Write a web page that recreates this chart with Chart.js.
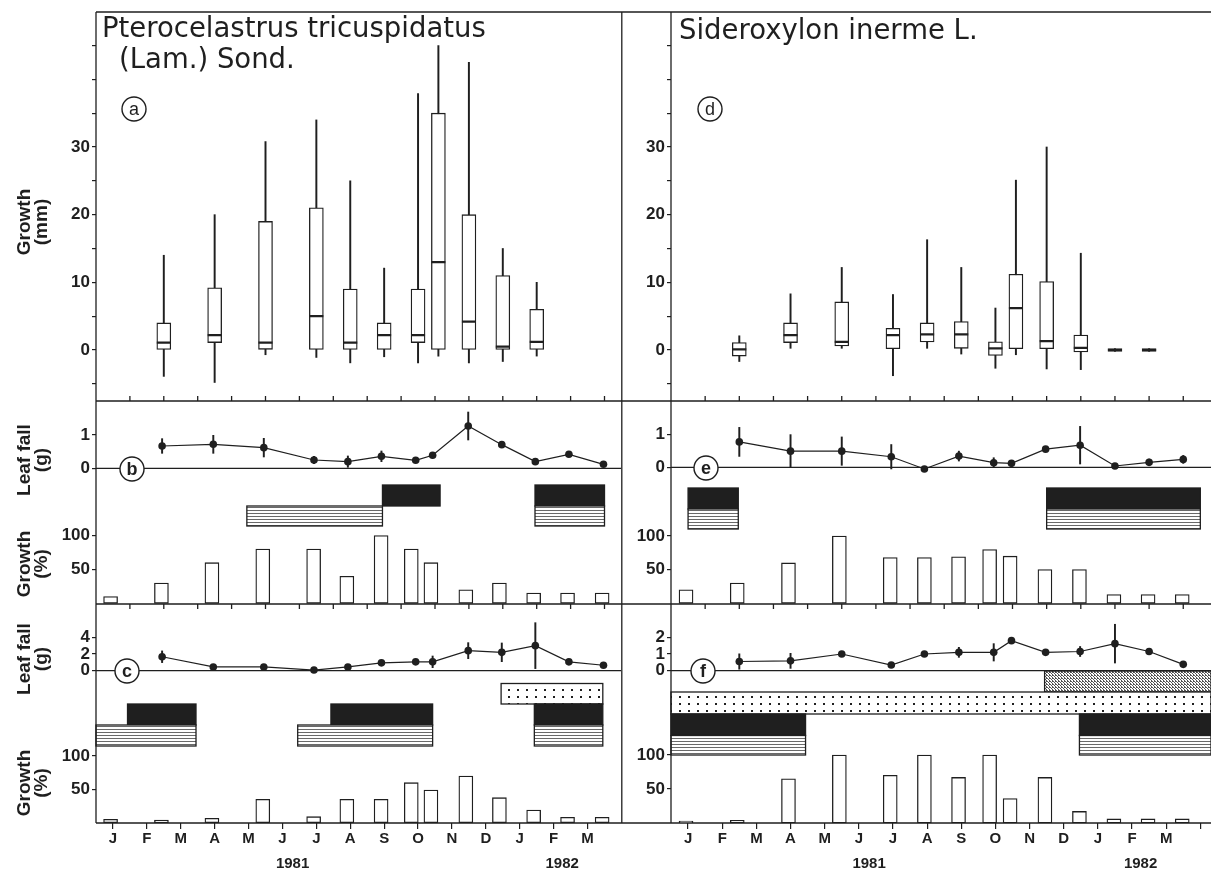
<!DOCTYPE html>
<html lang="en">
<head>
<meta charset="UTF-8">
<title>Growth and leaf fall, 1981-1982</title>
<script src="https://cdn.jsdelivr.net/npm/chart.js@4.4.0/dist/chart.umd.min.js"></script>
<style>
  body { margin: 0; background: #fff; }
  .page { position: relative; width: 1211px; height: 870px; overflow: hidden; }
  canvas { position: absolute; top: 0; }
  #left { left: 0; }
  #right { left: 621px; }
</style>
</head>
<body>
<div class="page">
  <canvas id="left" width="621" height="870"></canvas>
  <canvas id="right" width="590" height="870"></canvas>
</div>
<script>
// ---- axis labels (x in months from 1 Jan 1981) ----
const monthLabels = ["J", "F", "M", "A", "M", "J", "J", "A", "S", "O", "N", "D", "J", "F", "M"];
const monthTicks = [0.5, 1.5, 2.5, 3.5, 4.5, 5.5, 6.5, 7.5, 8.5, 9.5, 10.5, 11.5, 12.5, 13.5, 14.5];
const boundaryTicks = [1, 2, 3, 4, 5, 6, 7, 8, 9, 10, 11, 12, 13, 14, 15];
const yearLabels = ["1981", "1982"];
const yearTicks = [5.8, 13.75];

// ---- Pterocelastrus tricuspidatus ----
// (a) growth, mm
const boxDatesL = [2.0, 3.5, 5.0, 6.5, 7.5, 8.5, 9.5, 10.1, 11.0, 12.0, 13.0];
const boxMinL = [-3.9, -4.8, -0.7, -1.1, -1.9, -1.0, -1.9, -0.9, -1.9, -1.7, -0.9];
const boxQ1L = [0, 1.1, 0.1, 0, 0, 0, 1.1, 0, 0, 0, 0];
const boxMedL = [1.1, 2.2, 1.1, 5.0, 1.1, 2.2, 2.2, 13.0, 4.2, 0.5, 1.2];
const boxQ3L = [4.0, 9.2, 19.0, 21.0, 9.0, 4.0, 9.0, 35.0, 20.0, 11.0, 6.0];
const boxMaxL = [14.0, 20.0, 30.8, 34.0, 25.0, 12.1, 37.9, 45.0, 42.5, 15.0, 10.0];
// (b) and (c) leaf fall, g
const leafDatesL = [1.95, 3.46, 4.95, 6.43, 7.43, 8.42, 9.43, 9.93, 10.98, 11.97, 12.96, 13.95, 14.97];
const leafB = [0.67, 0.72, 0.62, 0.25, 0.2, 0.36, 0.24, 0.39, 1.27, 0.71, 0.2, 0.42, 0.12];
const leafBErr = [0.22, 0.27, 0.28, 0.11, 0.17, 0.16, null, null, 0.42, null, null, null, null];
const leafC = [1.67, 0.45, 0.45, 0.08, 0.45, 0.94, 1.06, 1.06, 2.4, 2.2, 3.0, 1.06, 0.65];
const leafCErr = [0.7, null, null, null, 0.3, null, null, 0.7, 0.96, 1.12, 2.75, null, null];
// (b) and (c) growth, %
const pctDatesL = [0.43, 1.93, 3.42, 4.92, 6.42, 7.4, 8.41, 9.3, 9.88, 10.91, 11.9, 12.91, 13.91, 14.93];
const pctB = [10, 30, 60, 80, 80, 40, 100, 80, 60, 20, 30, 15, 15, 15];
const pctC = [5, 4, 6.5, 35, 9, 35, 35, 60, 49, 70, 37.5, 19, 8, 8];
// phenophase periods [from, to]
const bStriped = [[4.45, 8.45], [12.95, 15.0]];
const bBlack = [[8.45, 10.15], [12.95, 15.0]];
const cDotted = [[11.95, 14.95]];
const cBlack = [[0.93, 2.95], [6.93, 9.93], [12.93, 14.95]];
const cStriped = [[0, 2.95], [5.95, 9.93], [12.93, 14.95]];

// ---- Sideroxylon inerme ----
const boxDatesR = [2.0, 3.5, 5.0, 6.5, 7.5, 8.5, 9.5, 10.1, 11.0, 12.0, 13.0, 14.0];
const boxMinR = [-1.7, 0.25, 0.25, -3.8, 0.25, -0.6, -2.7, -0.7, -2.8, -2.9, -0.2, -0.2];
const boxQ1R = [-0.9, 1.1, 0.6, 0.2, 1.2, 0.25, -0.8, 0.2, 0.2, -0.3, -0.2, -0.2];
const boxMedR = [0.1, 2.2, 1.2, 2.2, 2.3, 2.3, 0.25, 6.2, 1.3, 0.3, 0, 0];
const boxQ3R = [1.1, 4.0, 7.1, 3.2, 4.0, 4.2, 1.2, 11.2, 10.1, 2.2, 0.2, 0.2];
const boxMaxR = [2.1, 8.3, 12.2, 8.2, 16.3, 12.2, 6.2, 25.1, 30.0, 14.3, 0.2, 0.2];
const leafDatesR = [2.0, 3.5, 5.0, 6.45, 7.42, 8.43, 9.45, 9.97, 10.97, 11.98, 13.0, 14.0, 15.0];
const leafE = [0.77, 0.49, 0.49, 0.32, -0.05, 0.34, 0.14, 0.12, 0.55, 0.67, 0.04, 0.15, 0.24];
const leafEErr = [0.44, 0.5, 0.43, 0.37, null, 0.15, 0.15, null, null, 0.57, null, 0.1, 0.12];
const leafF = [0.55, 0.59, 1.0, 0.34, 1.0, 1.1, 1.1, 1.8, 1.1, 1.15, 1.62, 1.15, 0.38];
const leafFErr = [0.46, 0.45, null, null, null, 0.3, 0.52, null, null, 0.3, 1.16, null, null];
const pctDatesR = [0.44, 1.94, 3.44, 4.93, 6.42, 7.42, 8.42, 9.33, 9.93, 10.95, 11.96, 12.97, 13.97, 14.97];
const pctE = [20, 30, 60, 100, 68, 68, 69, 80, 70, 50, 50, 13, 13, 13];
const pctF = [3, 4, 65, 100, 70, 100, 67, 100, 36, 67, 17, 6, 6, 6];
const eBlack = [[0.5, 1.97], [11.0, 15.5]];
const eStriped = [[0.5, 1.97], [11.0, 15.5]];
const fDense = [[10.94, 16]];
const fDotted = [[0, 16]];
const fBlack = [[0, 3.94], [11.96, 16]];
const fStriped = [[0, 3.94], [11.96, 16]];

// ---- layout ----
const INK = "#1f1f1f";
const TOP = 12, BOTTOM = 823, LINE_A = 401, LINE_B = 604;
const TICK_FONT = { family: "Liberation Sans", size: 17, weight: "bold" };

function pattern(w, h, draw) {
  const c = document.createElement("canvas");
  c.width = w; c.height = h;
  const g = c.getContext("2d");
  g.fillStyle = "#fff"; g.fillRect(0, 0, w, h);
  draw(g);
  return c;
}
const stripeTile = pattern(4, 3, g => { g.fillStyle = "#6a6a6a"; g.fillRect(0, 0, 4, 1); });
const dotTile = pattern(9, 7, g => { g.fillStyle = INK; g.fillRect(4, 3, 2, 2); });
const denseTile = pattern(3, 3, g => { g.fillStyle = "#555"; g.fillRect(0, 0, 1, 1); g.fillRect(1, 1, 1, 1); g.fillRect(2, 2, 1, 1); g.fillRect(2, 0, 1, 1); });

// the axis boxes are squeezed to zero size; keep their labels from being clipped away
function noLabelClip(s) { s._computeLabelArea = () => undefined; }

function yScale(zeroPx, pxPerUnit, tickVals, labelVals) {
  return {
    type: "linear", axis: "y", position: "left",
    min: (zeroPx - BOTTOM) / pxPerUnit,
    max: (zeroPx - TOP) / pxPerUnit,
    afterBuildTicks: s => { s.ticks = tickVals.map(v => ({ value: v })); },
    afterFit: s => { s.width = 0; s.paddingTop = 0; s.paddingBottom = 0; noLabelClip(s); },
    grid: { drawOnChartArea: false, drawTicks: true, tickLength: 4, color: INK, lineWidth: 1.2 },
    border: { display: false },
    ticks: {
      autoSkip: false, padding: 2, color: INK, font: TICK_FONT,
      callback: v => (labelVals.includes(v) ? String(v) : "")
    }
  };
}

function xScales(xMax) {
  const base = { type: "linear", axis: "x", position: "bottom", min: 0, max: xMax, offset: false,
                 border: { display: false } };
  const fit = s => { s.height = 0; s.paddingLeft = 0; s.paddingRight = 0; noLabelClip(s); };
  return {
    x: Object.assign({}, base, {
      afterBuildTicks: s => { s.ticks = boundaryTicks.map(v => ({ value: v })); },
      afterFit: fit,
      grid: { drawOnChartArea: false, drawTicks: true, tickLength: 6, color: INK, lineWidth: 1.2 },
      ticks: { autoSkip: false, callback: () => "" }
    }),
    xm: Object.assign({}, base, {
      afterBuildTicks: s => { s.ticks = monthTicks.map(v => ({ value: v })); },
      afterFit: fit,
      grid: { display: false, drawTicks: false },
      ticks: { autoSkip: false, maxRotation: 0, padding: 7, color: INK,
               font: { family: "Liberation Sans", size: 15, weight: "bold" },
               callback: (v, i) => monthLabels[i] }
    }),
    xy: Object.assign({}, base, {
      afterBuildTicks: s => { s.ticks = yearTicks.map(v => ({ value: v })); },
      afterFit: fit,
      grid: { display: false, drawTicks: false },
      ticks: { autoSkip: false, maxRotation: 0, padding: 32, color: INK,
               font: { family: "Liberation Sans", size: 15, weight: "bold" },
               callback: (v, i) => yearLabels[i] }
    })
  };
}

function boxSets(dates, lo, q1, q3, hi, yID) {
  return [
    { type: "bar", yAxisID: yID, xAxisID: "x", grouped: false, order: 6, barThickness: 1.3,
      backgroundColor: INK, borderWidth: 0,
      data: dates.map((d, i) => ({ x: d, y: [lo[i], hi[i]] })) },
    { type: "bar", yAxisID: yID, xAxisID: "x", grouped: false, order: 5, barThickness: 14,
      backgroundColor: "#fff", borderColor: INK, borderWidth: 1.3, borderSkipped: false,
      data: dates.map((d, i) => ({ x: d, y: [q1[i], q3[i]] })) }
  ];
}

function leafSets(dates, vals, errs, yID) {
  return [
    { type: "bar", yAxisID: yID, xAxisID: "x", grouped: false, order: 3, barThickness: 1.3,
      backgroundColor: INK, borderWidth: 0,
      data: dates.map((d, i) => (errs[i] == null ? null : { x: d, y: [vals[i] - errs[i], vals[i] + errs[i]] }))
                 .filter(Boolean) },
    { type: "line", yAxisID: yID, xAxisID: "x", order: 2,
      data: dates.map((d, i) => ({ x: d, y: vals[i] })),
      borderColor: INK, borderWidth: 1.2, tension: 0, fill: false,
      pointRadius: 3.8, pointBackgroundColor: INK, pointBorderWidth: 0 }
  ];
}

function pctSet(dates, vals, yID) {
  return { type: "bar", yAxisID: yID, xAxisID: "x", grouped: false, order: 4, barThickness: 14,
           backgroundColor: "#fff", borderColor: INK, borderWidth: 1.3, borderSkipped: false,
           data: dates.map((d, i) => ({ x: d, y: vals[i] })) };
}

function circled(ctx, ch, x, y, bold) {
  ctx.beginPath();
  ctx.arc(x, y, 12, 0, Math.PI * 2);
  ctx.fillStyle = "#fff"; ctx.fill();
  ctx.lineWidth = 1.4; ctx.strokeStyle = INK; ctx.stroke();
  ctx.fillStyle = INK;
  ctx.font = (bold ? "bold " : "") + "18px 'Liberation Sans'";
  ctx.textAlign = "center"; ctx.textBaseline = "middle";
  ctx.fillText(ch, x, y + 1);
}

function rotated(ctx, lines, cx, cy) {
  ctx.save();
  ctx.translate(cx, cy);
  ctx.rotate(-Math.PI / 2);
  ctx.fillStyle = INK;
  ctx.font = "bold 19px 'Liberation Sans'";
  ctx.textAlign = "center"; ctx.textBaseline = "middle";
  ctx.fillText(lines[0], 0, -9);
  ctx.fillText(lines[1], 0, 8);
  ctx.restore();
}

function panelPlugin(cfg) {
  return {
    id: "panel",
    beforeDatasetsDraw(chart) {
      const { ctx, chartArea: ca, scales } = chart;
      const W = chart.width;
      ctx.save();
      // phenophase bands
      cfg.bands.forEach(b => {
        ctx.fillStyle = b.fill === "black" ? INK : ctx.createPattern(b.fill, "repeat");
        b.ranges.forEach(r => {
          const x0 = Math.max(ca.left, scales.x.getPixelForValue(r[0]));
          const x1 = Math.min(W, scales.x.getPixelForValue(r[1]));
          ctx.fillRect(x0, b.top, x1 - x0, b.bottom - b.top);
          ctx.lineWidth = 1.3; ctx.strokeStyle = INK;
          ctx.strokeRect(x0, b.top, x1 - x0, b.bottom - b.top);
        });
      });
      // frame, zero lines and month ticks
      ctx.strokeStyle = INK; ctx.lineWidth = 1.3;
      ctx.beginPath();
      const ln = (x0, y0, x1, y1) => { ctx.moveTo(x0, y0); ctx.lineTo(x1, y1); };
      ln(ca.left, TOP, ca.left, BOTTOM);
      if (cfg.divider) ln(0.8, TOP, 0.8, BOTTOM);
      [TOP, LINE_A, LINE_B, BOTTOM].forEach(y => ln(cfg.hStart, y, W, y));
      cfg.zeros.forEach(id => {
        const y = scales[id].getPixelForValue(0);
        ln(ca.left, y, W, y);
      });
      boundaryTicks.forEach(v => {
        const x = scales.x.getPixelForValue(v);
        ln(x, LINE_A, x, LINE_A - 5);
        ln(x, LINE_B, x, LINE_B + 5);
      });
      ctx.stroke();
      ctx.restore();
    },
    afterDatasetsDraw(chart) {
      const { ctx, scales } = chart;
      ctx.save();
      // box medians
      ctx.strokeStyle = INK; ctx.lineWidth = 2.2;
      ctx.beginPath();
      cfg.medDates.forEach((d, i) => {
        const x = scales.x.getPixelForValue(d);
        const y = scales[cfg.medAxis].getPixelForValue(cfg.medians[i]);
        ctx.moveTo(x - 7, y); ctx.lineTo(x + 7, y);
      });
      ctx.stroke();
      cfg.letters.forEach(l => circled(ctx, l.ch, l.x, l.y, l.bold));
      ctx.fillStyle = INK;
      ctx.font = "27.5px 'DejaVu Sans'";
      ctx.textAlign = "left"; ctx.textBaseline = "alphabetic";
      cfg.titles.forEach(t => ctx.fillText(t.text, t.x, t.y));
      (cfg.yTitles || []).forEach(t => rotated(ctx, t.lines, t.x, t.y));
      ctx.restore();
    }
  };
}

function makeChart(id, padLeft, xMax, yScales, datasets, plugin) {
  return new Chart(document.getElementById(id), {
    type: "bar",
    data: { datasets },
    options: {
      responsive: false, animation: false, events: [], devicePixelRatio: 1,
      layout: { autoPadding: false, padding: { left: padLeft, right: 0, top: TOP, bottom: 870 - BOTTOM } },
      plugins: { legend: { display: false }, tooltip: { enabled: false } },
      scales: Object.assign(xScales(xMax), yScales)
    },
    plugins: [plugin]
  });
}

const fiveStep = [-5, 0, 5, 10, 15, 20, 25, 30, 35, 40, 45];
const mmLabels = [0, 10, 20, 30];

makeChart("left", 96, (621 - 96) / 33.9, {
    yA: yScale(350, 6.767, fiveStep, mmLabels),
    yB: yScale(468.3, 33.3, [0, 1], [0, 1]),
    yBg: yScale(603.3, 0.677, [50, 100], [50, 100]),
    yC: yScale(670.7, 8.35, [0, 2, 4], [0, 2, 4]),
    yCg: yScale(822.7, 0.667, [50, 100], [50, 100])
  },
  [].concat(
    boxSets(boxDatesL, boxMinL, boxQ1L, boxQ3L, boxMaxL, "yA"),
    leafSets(leafDatesL, leafB, leafBErr, "yB"),
    pctSet(pctDatesL, pctB, "yBg"),
    leafSets(leafDatesL, leafC, leafCErr, "yC"),
    pctSet(pctDatesL, pctC, "yCg")
  ),
  panelPlugin({
    hStart: 96, divider: false, zeros: ["yB", "yC"],
    medDates: boxDatesL, medians: boxMedL, medAxis: "yA",
    bands: [
      { ranges: bBlack, top: 485, bottom: 506, fill: "black" },
      { ranges: bStriped, top: 506, bottom: 526, fill: stripeTile },
      { ranges: cDotted, top: 683.5, bottom: 704, fill: dotTile },
      { ranges: cBlack, top: 704, bottom: 725, fill: "black" },
      { ranges: cStriped, top: 725, bottom: 746, fill: stripeTile }
    ],
    letters: [
      { ch: "a", x: 134, y: 109, bold: false },
      { ch: "b", x: 132, y: 469, bold: true },
      { ch: "c", x: 127, y: 671, bold: true }
    ],
    titles: [
      { text: "Pterocelastrus tricuspidatus", x: 102, y: 37 },
      { text: "(Lam.) Sond.", x: 119, y: 68 }
    ],
    yTitles: [
      { lines: ["Growth", "(mm)"], x: 34, y: 222 },
      { lines: ["Leaf fall", "(g)"], x: 34, y: 460 },
      { lines: ["Growth", "(%)"], x: 34, y: 564 },
      { lines: ["Leaf fall", "(g)"], x: 34, y: 659 },
      { lines: ["Growth", "(%)"], x: 34, y: 783 }
    ]
  })
);

makeChart("right", 50, (590 - 50) / 34.15, {
    yD: yScale(350, 6.767, fiveStep, mmLabels),
    yE: yScale(467.3, 33.0, [0, 1], [0, 1]),
    yEg: yScale(603.3, 0.673, [50, 100], [50, 100]),
    yF: yScale(670.7, 16.7, [0, 1, 2], [0, 1, 2]),
    yFg: yScale(823, 0.68, [50, 100], [50, 100])
  },
  [].concat(
    boxSets(boxDatesR, boxMinR, boxQ1R, boxQ3R, boxMaxR, "yD"),
    leafSets(leafDatesR, leafE, leafEErr, "yE"),
    pctSet(pctDatesR, pctE, "yEg"),
    leafSets(leafDatesR, leafF, leafFErr, "yF"),
    pctSet(pctDatesR, pctF, "yFg")
  ),
  panelPlugin({
    hStart: 0, divider: true, zeros: ["yE", "yF"],
    medDates: boxDatesR, medians: boxMedR, medAxis: "yD",
    bands: [
      { ranges: eBlack, top: 488, bottom: 509, fill: "black" },
      { ranges: eStriped, top: 509, bottom: 529, fill: stripeTile },
      { ranges: fDense, top: 671, bottom: 692, fill: denseTile },
      { ranges: fDotted, top: 692, bottom: 714, fill: dotTile },
      { ranges: fBlack, top: 714, bottom: 735.5, fill: "black" },
      { ranges: fStriped, top: 735.5, bottom: 755, fill: stripeTile }
    ],
    letters: [
      { ch: "d", x: 89, y: 109, bold: false },
      { ch: "e", x: 85, y: 468, bold: true },
      { ch: "f", x: 82, y: 671, bold: true }
    ],
    titles: [
      { text: "Sideroxylon inerme L.", x: 58, y: 39 }
    ]
  })
);
</script>
</body>
</html>
